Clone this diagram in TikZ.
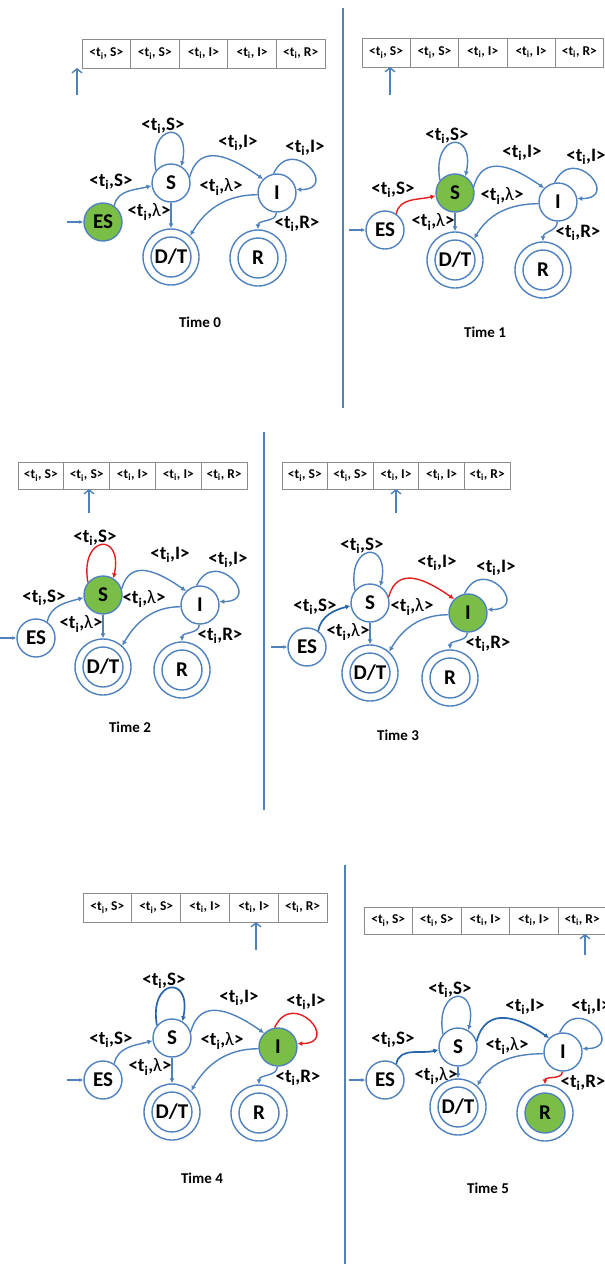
\documentclass[tikz,border=0pt]{standalone}
\usepackage{fontspec}
\setmainfont{Carlito}
\usetikzlibrary{arrows.meta}

\definecolor{edgeblue}{RGB}{79,129,189}
\definecolor{darkblue}{RGB}{40,102,172}
\definecolor{litgreen}{RGB}{122,190,72}
\definecolor{hotred}{RGB}{228,30,30}
\definecolor{tabgray}{RGB}{140,140,140}

\newcommand\lam{{\mdseries λ}}

\tikzset{
  state/.style={circle, draw=edgeblue, line width=1.4pt, fill=white,
    minimum size=38pt, inner sep=0pt, font=\bfseries\fontsize{21}{21}\selectfont},
  accept/.style={state, minimum size=56pt,
    path picture={\draw[edgeblue, line width=1.4pt]
      (path picture bounding box.center) circle (20pt);}},
  acceptlit/.style={path picture={\draw[edgeblue, line width=1.4pt, fill=litgreen]
      (path picture bounding box.center) circle (20pt);}},
  lit/.style={fill=litgreen},
  trans/.style={draw=edgeblue, line width=1.4pt, -{Latex[length=5pt,width=5pt]}},
  entry/.style={draw=edgeblue, line width=1.3pt, -{Latex[length=4pt,width=4pt]}},
  fired/.style={draw=hotred},
  done/.style={draw=darkblue, line width=1.7pt},
  elabel/.style={font=\bfseries\fontsize{19}{19}\selectfont, inner sep=0pt},
  cell/.style={draw=tabgray, line width=0.8pt, inner sep=0pt, outer sep=0pt,
    anchor=north west, font=\bfseries\fontsize{13.5}{13.5}\selectfont},
  ptr/.style={draw=edgeblue, line width=1.4pt, -{Straight Barb[length=4pt,width=10pt]}},
  divider/.style={draw=edgeblue, line width=2.4pt},
  timelabel/.style={font=\bfseries\fontsize{15}{15}\selectfont},
  hlES/.style={}, hlS/.style={}, hlI/.style={}, hlR/.style={},
  hlESS/.style={}, hlSS/.style={}, hlSI/.style={}, hlII/.style={}, hlIR/.style={},
}

% state machine: #1 ES, #2 S, #3 I, #4 D/T, #5 R
\newcommand\automaton[5]{%
  \node[state, hlES] (es) at (#1) {ES};
  \node[state, hlS] (s) at (#2) {S};
  \node[state, hlI] (i) at (#3) {I};
  \node[accept] (dt) at (#4) {D/T};
  \node[accept, hlR] (r) at (#5) {R};
  \coordinate (start) at ([xshift=-16pt]es.west);
  \draw[entry] (start) -- (es.west);
  \draw[trans, hlESS] (es.55) to[out=80, in=195] (s.188);
  \draw[trans, hlSS] (s.140) to[out=100, in=78, distance=48pt] (s.58);
  \draw[trans, hlSI] (s.18) to[out=75, in=145, looseness=1.3] (i.135);
  \draw[trans, hlII] (i.100) to[out=65, in=0, distance=44pt] (i.10);
  \draw[trans] (s.south) -- (s.south |- dt.north);
  \draw[trans] (i.185) to[out=180, in=60] (dt.48);
  \draw[trans, hlIR] (i.268) to[out=-90, in=90] (r.north);
  \node[elabel] (l-ess) at ([shift={(8,40)}]es) {<t\textsubscript{i},S>};
  \node[elabel] (l-ss) at ([shift={(-8,57)}]s) {<t\textsubscript{i},S>};
  \node[elabel] (l-si) at ([shift={(67,40)}]s) {<t\textsubscript{i},I>};
  \node[elabel] (l-ii) at ([shift={(28,45)}]i) {<t\textsubscript{i},I>};
  \node[elabel] (l-sdt) at ([shift={(-22,-29)}]s) {<t\textsubscript{i},\lam>};
  \node[elabel] (l-idt) at ([shift={(-56,6)}]i) {<t\textsubscript{i},\lam>};
  \node[elabel] (l-ir) at ([shift={(20,-31)}]i) {<t\textsubscript{i},R>};
}

% input tape: #1 top-left corner, #2 cell width, #3 cell height
\newcommand\tape[3]{%
  \node[cell, minimum width=#2, minimum height=#3] (c1) at (#1) {<t\textsubscript{i}, S>};
  \node[cell, minimum width=#2, minimum height=#3] (c2) at (c1.north east) {<t\textsubscript{i}, S>};
  \node[cell, minimum width=#2, minimum height=#3] (c3) at (c2.north east) {<t\textsubscript{i}, I>};
  \node[cell, minimum width=#2, minimum height=#3] (c4) at (c3.north east) {<t\textsubscript{i}, I>};
  \node[cell, minimum width=#2, minimum height=#3] (c5) at (c4.north east) {<t\textsubscript{i}, R>};
}

\begin{document}
\begin{tikzpicture}[x=1pt, y=1pt]
\useasboundingbox (0,0) rectangle (605,-1264);

% separators between the snapshots
\coordinate (d1a) at (343,-8);    \coordinate (d1b) at (343,-408);
\coordinate (d2a) at (264,-432);  \coordinate (d2b) at (264,-810);
\coordinate (d3a) at (345,-865);  \coordinate (d3b) at (345,-1264);
\draw[divider] (d1a) -- (d1b);
\draw[divider] (d2a) -- (d2b);
\draw[divider] (d3a) -- (d3b);

% Time 0
\begin{scope}[name prefix=t0-, hlES/.style=lit]
  \tape{82,-39}{48.6pt}{29pt}
  \coordinate (pa) at (77,-95); \coordinate (pb) at (77,-68);
  \draw[ptr] (pa) -- (pb);
  \automaton{103,-222}{171,-183}{277,-193}{171,-257}{258,-258}
  \node[timelabel] (time) at (200,-322) {Time 0};
\end{scope}

% Time 1
\begin{scope}[name prefix=t1-, hlS/.style=lit, hlESS/.style=fired]
  \tape{362,-38}{48.3pt}{29pt}
  \coordinate (pa) at (390,-95); \coordinate (pb) at (390,-67);
  \draw[ptr] (pa) -- (pb);
  \automaton{385,-230}{455,-193}{558,-202}{455,-260}{543,-270}
  \node[timelabel] (time) at (485,-332) {Time 1};
\end{scope}

% Time 2
\begin{scope}[name prefix=t2-, hlS/.style=lit, hlSS/.style=fired]
  \tape{18,-462}{45.8pt}{27pt}
  \coordinate (pa) at (89,-513); \coordinate (pb) at (89,-489);
  \draw[ptr] (pa) -- (pb);
  \automaton{36,-638}{103,-595}{200,-605}{103,-667}{182,-670}
  \node[timelabel] (time) at (130,-727) {Time 2};
\end{scope}

% Time 3
\begin{scope}[name prefix=t3-, hlI/.style=lit, hlSI/.style=fired, hlESS/.style=done]
  \tape{282,-462}{45.6pt}{27pt}
  \coordinate (pa) at (396,-513); \coordinate (pb) at (396,-489);
  \draw[ptr] (pa) -- (pb);
  \automaton{307,-647}{370,-603}{468,-613}{370,-673}{450,-678}
  \node[timelabel] (time) at (398,-735) {Time 3};
\end{scope}

% Time 4
\begin{scope}[name prefix=t4-, hlI/.style=lit, hlII/.style=fired, hlSS/.style=done]
  \tape{83,-893}{48.8pt}{29pt}
  \coordinate (pa) at (256,-950); \coordinate (pb) at (256,-922);
  \draw[ptr] (pa) -- (pb);
  \automaton{103,-1080}{172,-1038}{278,-1047}{172,-1112}{259,-1113}
  \node[timelabel] (time) at (202,-1178) {Time 4};
\end{scope}

% Time 5
\begin{scope}[name prefix=t5-, hlR/.style=acceptlit, hlIR/.style=fired,
              hlESS/.style=done, hlSI/.style=done]
  \tape{364,-907}{48.5pt}{27pt}
  \coordinate (pa) at (585,-955); \coordinate (pb) at (585,-934);
  \draw[ptr] (pa) -- (pb);
  \automaton{385,-1080}{458,-1047}{563,-1052}{458,-1107}{545,-1113}
  \node[timelabel] (time) at (488,-1188) {Time 5};
\end{scope}
\end{tikzpicture}
\end{document}
